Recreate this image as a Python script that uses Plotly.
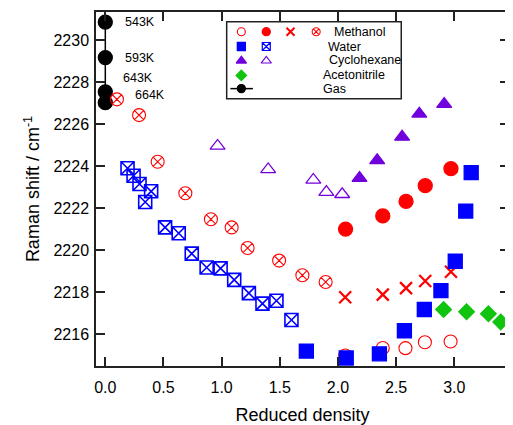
import plotly.graph_objects as go

# ---------------- data ----------------
gas_x = [0.0, 0.0, 0.0, 0.0]
gas_y = [2230.86, 2229.17, 2227.54, 2227.02]
gas_labels = ["543K", "593K", "643K", "664K"]

meoh_cx_x = [0.10, 0.29, 0.45, 0.688, 0.908, 1.086, 1.223, 1.494, 1.694, 1.894]
meoh_cx_y = [2227.18, 2226.43, 2224.21, 2222.71, 2221.47, 2221.08, 2220.10, 2219.50, 2218.80, 2218.48]

meoh_x_x = [2.062, 2.385, 2.585, 2.75, 2.971]
meoh_x_y = [2217.75, 2217.88, 2218.19, 2218.53, 2218.97]

meoh_fill_x = [2.065, 2.385, 2.585, 2.75, 2.971]
meoh_fill_y = [2221.0, 2221.63, 2222.32, 2223.07, 2223.88]

meoh_open_x = [2.062, 2.385, 2.58, 2.747, 2.968]
meoh_open_y = [2214.98, 2215.34, 2215.33, 2215.61, 2215.65]

water_fill_x = [1.728, 2.071, 2.356, 2.571, 2.742, 2.885, 3.008, 3.098, 3.145]
water_fill_y = [2215.19, 2214.86, 2215.06, 2216.16, 2217.17, 2218.07, 2219.47, 2221.86, 2223.69]

water_sx_x = [0.191, 0.243, 0.294, 0.394, 0.343, 0.514, 0.631, 0.743, 0.871, 0.991,
              1.108, 1.234, 1.351, 1.471, 1.600]
water_sx_y = [2223.90, 2223.54, 2223.15, 2222.80, 2222.29, 2221.08, 2220.80, 2219.83, 2219.17, 2219.13,
              2218.58, 2217.95, 2217.45, 2217.59, 2216.67]

cyc_fill_x = [2.185, 2.337, 2.551, 2.699, 2.913]
cyc_fill_y = [2223.43, 2224.27, 2225.39, 2226.49, 2226.95]

cyc_open_x = [0.965, 1.400, 1.788, 1.900, 2.036]
cyc_open_y = [2224.96, 2223.84, 2223.34, 2222.76, 2222.66]

acn_x = [2.908, 3.105, 3.293, 3.399]
acn_y = [2217.17, 2217.06, 2216.97, 2216.58]

x_ticks = [0.0, 0.5, 1.0, 1.5, 2.0, 2.5, 3.0]
y_ticks = [2216, 2218, 2220, 2222, 2224, 2226, 2228, 2230]

legend_names = ["Methanol", "Water", "Cyclohexane", "Acetonitrile", "Gas"]

# ---------------- styles ----------------
RED = "#FF0000"
BLUE = "#0000FF"
PURPLE = "#7000DC"
GREEN = "#10C410"
FONT = "Liberation Sans, Arial, sans-serif"

fig = go.Figure()

def add(x, y, symbol, color, size, lw=1.3, mode="markers", xa="x", ya="y", line=None):
    fig.add_trace(go.Scatter(
        x=x, y=y, mode=mode, xaxis=xa, yaxis=ya, showlegend=False, hoverinfo="skip",
        marker=dict(symbol=symbol, size=size, color=color, line=dict(color=color, width=lw)),
        line=line,
    ))

# data marks
add(gas_x, gas_y, "circle", "black", 14, mode="lines+markers", line=dict(color="black", width=1.5))
add(meoh_cx_x, meoh_cx_y, "circle-x-open", RED, 13, lw=1.1)
add(meoh_x_x, meoh_x_y, "x-thin-open", RED, 12, lw=2.2)
add(meoh_fill_x, meoh_fill_y, "circle", RED, 14)
add(meoh_open_x, meoh_open_y, "circle-open", RED, 13, lw=1.1)
add(water_sx_x, water_sx_y, "square-x-open", BLUE, 13, lw=1.6)
add(water_fill_x, water_fill_y, "square", BLUE, 14)
add(cyc_fill_x, cyc_fill_y, "triangle-up", PURPLE, 13)
add(cyc_open_x, cyc_open_y, "triangle-up-open", PURPLE, 13, lw=1.3)
add(acn_x, acn_y, "diamond", GREEN, 12)

# gas temperature labels
label_dx = [0.152, 0.150, 0.132, 0.237]
label_dy = [0.0, 0.0, 0.65, 0.35]
for xv, yv, t, dx, dy in zip(gas_x, gas_y, gas_labels, label_dx, label_dy):
    fig.add_annotation(x=xv + dx, y=yv + dy, text=t, showarrow=False, xanchor="left",
                       yanchor="middle", font=dict(family=FONT, size=12.5, color="black"))

# ---------------- custom legend (overlay axes in window-pixel units) ----------------
LX = [241.7, 266.7, 291.0, 316.7]
LY = [30.0, 45.0, 58.5, 74.3, 87.7]
add([LX[0]], [LY[0]], "circle-open", RED, 8, lw=1.1, xa="x2", ya="y2")
add([LX[1]], [LY[0]], "circle", RED, 8, xa="x2", ya="y2")
add([LX[2]], [LY[0]], "x-thin-open", RED, 8, lw=2, xa="x2", ya="y2")
add([LX[3]], [LY[0]], "circle-x-open", RED, 8, lw=1.1, xa="x2", ya="y2")
add([LX[0]], [LY[1]], "square", BLUE, 8, xa="x2", ya="y2")
add([LX[1]], [LY[1]], "square-x-open", BLUE, 8, lw=1.2, xa="x2", ya="y2")
add([LX[0]], [LY[2] + 1], "triangle-up", PURPLE, 9, xa="x2", ya="y2")
add([LX[1]], [LY[2] + 1], "triangle-up-open", PURPLE, 9, lw=1.1, xa="x2", ya="y2")
add([LX[0]], [LY[3]], "diamond", GREEN, 8, xa="x2", ya="y2")
add([230.7, 253.3], [LY[4], LY[4]], "circle", "black", 0, mode="lines", xa="x2", ya="y2",
    line=dict(color="black", width=1.5))
add([LX[0]], [LY[4]], "circle", "black", 8, xa="x2", ya="y2")

text_x = [333.0, 326.7, 327.3, 321.7, 321.7]
for tx, ty, name in zip(text_x, LY, legend_names):
    fig.add_annotation(x=tx, y=ty, xref="x2", yref="y2", text=name, showarrow=False,
                       xanchor="left", yanchor="middle",
                       font=dict(family=FONT, size=12.5, color="black"))

fig.add_shape(type="rect", xref="x2", yref="y2", x0=227, x1=402, y0=20, y1=98,
              line=dict(color="#222", width=1.5), fillcolor="rgba(0,0,0,0)", layer="above")

axis_common = dict(showline=True, linecolor="#222", linewidth=1.5, mirror="ticks",
                   ticks="inside", ticklen=9, tickwidth=1.5, tickcolor="#222",
                   showgrid=False, zeroline=False,
                   tickfont=dict(family=FONT, size=16, color="black"))

# page body has an 8px margin, so the figure is sized/offset to compensate
fig.update_layout(
    width=505, height=417,
    margin=dict(l=88, r=3, t=2, b=56),
    paper_bgcolor="white", plot_bgcolor="white",
    font=dict(family=FONT, color="black"),
    showlegend=False,
    xaxis=dict(range=[-0.08, 3.47], tickvals=x_ticks, ticktext=[f"{v:.1f}" for v in x_ticks],
               title=dict(text="Reduced density", font=dict(family=FONT, size=18), standoff=14),
               ticklabelstandoff=6, **axis_common),
    yaxis=dict(range=[2214.48, 2231.34], tickvals=y_ticks, ticktext=[str(v) for v in y_ticks],
               title=dict(text="Raman shift / cm<sup>-1</sup>", font=dict(family=FONT, size=18), standoff=9),
               ticklabelstandoff=2, **axis_common),
    xaxis2=dict(overlaying="x", range=[96, 510], visible=False, fixedrange=True),
    yaxis2=dict(overlaying="y", range=[369, 10], visible=False, fixedrange=True),
)

fig.write_html("out.html")
